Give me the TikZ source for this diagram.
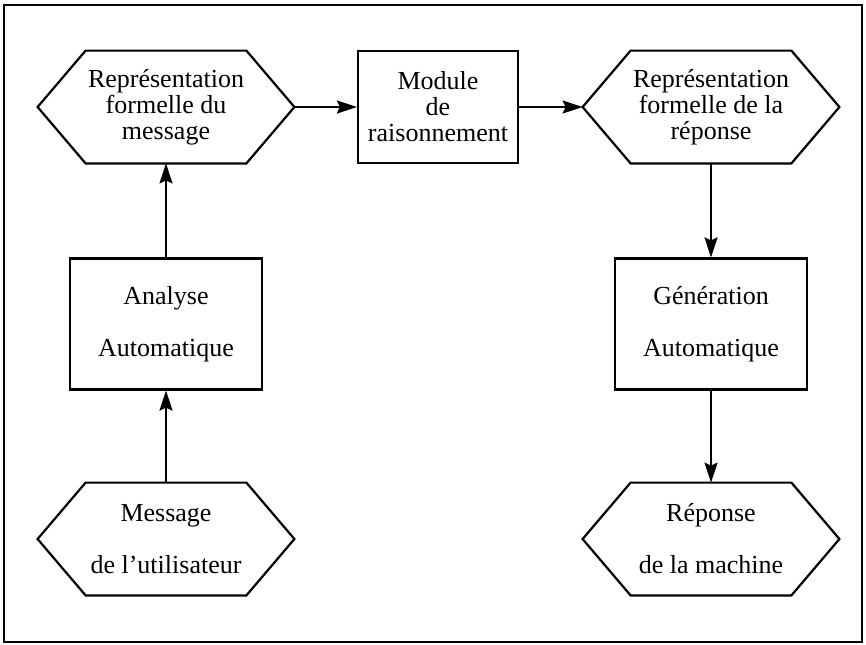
\documentclass[tikz,border=0pt]{standalone}
\usepackage{fontspec}
\setmainfont{Liberation Serif}
\usetikzlibrary{arrows.meta}

\tikzset{
  hexa/.style={minimum width=128pt, minimum height=56pt, inner sep=0pt, align=center, font=\fontsize{13}{13}\selectfont},
  boite/.style={draw, line width=1.1pt, minimum height=65.5pt, inner sep=0pt, align=center, font=\fontsize{13}{13}\selectfont},
  fleche/.style={line width=1.1pt, -{Stealth[length=10pt,width=6.5pt,inset=1.5pt]}}
}

\begin{document}
\begin{tikzpicture}[x=0.5pt,y=-0.5pt]
\useasboundingbox (0,0) rectangle (866,644);
\draw[line width=1.4pt] (4,5) rectangle (862,642);
% les hexagones
\node[hexa] (msgrep) at (166,107) {Représentation\\formelle du\\message};
\node[hexa] (reprep) at (711,107) {Représentation\\formelle de la\\réponse};
\node[hexa] (msguser) at (166,539) {Message\\[13pt]de l'utilisateur};
\node[hexa] (repmach) at (711,539) {Réponse\\[13pt]de la machine};
\foreach \h in {msgrep,reprep,msguser,repmach}
  \draw[line width=1.1pt] (\h.west) -- ([xshift=24pt]\h.north west) -- ([xshift=-24pt]\h.north east) -- (\h.east) -- ([xshift=-24pt]\h.south east) -- ([xshift=24pt]\h.south west) -- cycle;
% les modules
\node[boite, minimum width=80pt, minimum height=56pt] (raison) at (438,107) {Module\\de\\raisonnement};
\node[boite, minimum width=96pt] (analyse) at (166,324) {Analyse\\[13pt]Automatique};
\node[boite, minimum width=96pt] (gener) at (711,324) {Génération\\[13pt]Automatique};
% les fleches
\draw[fleche] (msguser) -- (analyse);
\draw[fleche] (analyse) -- (msgrep);
\draw[fleche] (msgrep) -- (raison);
\draw[fleche] (raison) -- (reprep);
\draw[fleche] (reprep) -- (gener);
\draw[fleche] (gener) -- (repmach);
\end{tikzpicture}
\end{document}
